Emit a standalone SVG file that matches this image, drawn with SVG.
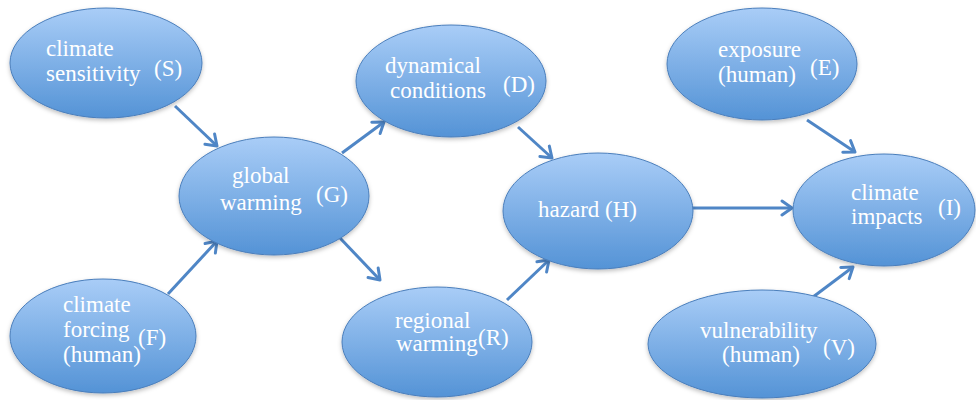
<svg xmlns="http://www.w3.org/2000/svg" width="976" height="400" viewBox="0 0 976 400">
<defs>
<linearGradient id="g" x1="0" y1="0" x2="0" y2="1">
<stop offset="0" stop-color="#a9cdf7"/>
<stop offset="1" stop-color="#5493d6"/>
</linearGradient>
<filter id="sh" x="-10%" y="-10%" width="120%" height="130%">
<feDropShadow dx="0" dy="2" stdDeviation="2" flood-color="#000" flood-opacity="0.25"/>
</filter>
<marker id="ah" markerUnits="userSpaceOnUse" markerWidth="18" markerHeight="18" refX="13" refY="9" orient="auto" viewBox="0 0 18 18">
<path d="M3,2 L13,9 L3,16" fill="none" stroke="#4f86c6" stroke-width="3" stroke-linecap="round" stroke-linejoin="round"/>
</marker>
<style>
.n ellipse{fill:url(#g);stroke:#4a7ebb;stroke-width:1;filter:url(#sh)}
.n text{font-family:"Liberation Serif","Times New Roman",serif;font-size:23px;fill:#ffffff}
.c line{stroke:#4f86c6;stroke-width:3;marker-end:url(#ah)}
</style>
</defs>
<rect width="976" height="400" fill="#ffffff"/>
<g class="c" id="connectors">
<line x1="175" y1="106" x2="217" y2="146"/>
<line x1="168" y1="294" x2="217" y2="241"/>
<line x1="342" y1="153" x2="384" y2="122"/>
<line x1="340" y1="238" x2="380" y2="280"/>
<line x1="518" y1="127" x2="552" y2="158"/>
<line x1="507" y1="300" x2="549" y2="260"/>
<line x1="692" y1="208" x2="792" y2="208"/>
<line x1="807" y1="120" x2="855" y2="152"/>
<line x1="813" y1="297" x2="853" y2="267"/>
</g>
<g class="n" id="S">
<ellipse cx="106" cy="63" rx="96" ry="55"/>
<text x="46" y="56">climate</text>
<text x="46" y="81">sensitivity</text>
<text x="154" y="76">(S)</text>
</g>
<g class="n" id="F">
<ellipse cx="103" cy="336" rx="93" ry="57"/>
<text x="63" y="312">climate</text>
<text x="63" y="337">forcing</text>
<text x="63" y="362">(human)</text>
<text x="138" y="345">(F)</text>
</g>
<g class="n" id="G">
<ellipse cx="274" cy="196" rx="95" ry="59"/>
<text x="232" y="183">global</text>
<text x="220" y="210">warming</text>
<text x="316" y="202">(G)</text>
</g>
<g class="n" id="D">
<ellipse cx="451" cy="81" rx="95" ry="56"/>
<text x="385" y="73">dynamical</text>
<text x="390" y="98">conditions</text>
<text x="503" y="92">(D)</text>
</g>
<g class="n" id="R">
<ellipse cx="437" cy="342" rx="95" ry="55"/>
<text x="395" y="328">regional</text>
<text x="396" y="351">warming</text>
<text x="478" y="345">(R)</text>
</g>
<g class="n" id="H">
<ellipse cx="598" cy="211" rx="95" ry="58"/>
<text x="538" y="217">hazard (H)</text>
</g>
<g class="n" id="E">
<ellipse cx="762" cy="64" rx="95" ry="56"/>
<text x="718" y="57">exposure</text>
<text x="718" y="82">(human)</text>
<text x="810" y="75">(E)</text>
</g>
<g class="n" id="I">
<ellipse cx="884" cy="210" rx="91" ry="56"/>
<text x="851" y="200">climate</text>
<text x="851" y="224">impacts</text>
<text x="938" y="215">(I)</text>
</g>
<g class="n" id="V">
<ellipse cx="762" cy="344" rx="114" ry="54"/>
<text x="700" y="338">vulnerability</text>
<text x="722" y="362">(human)</text>
<text x="823" y="355">(V)</text>
</g>
</svg>
